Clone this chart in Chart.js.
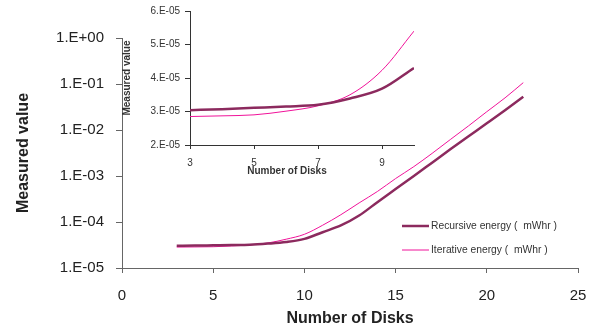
<!DOCTYPE html>
<html>
<head>
<meta charset="utf-8">
<script src="https://cdn.jsdelivr.net/npm/chart.js@4/dist/chart.umd.min.js"></script>
<style>
body{margin:0;background:#fff;}
#wrap{position:relative;width:597px;height:332px;}
#principal{position:absolute;left:0;top:0;}
#detalhe{position:absolute;left:100px;top:0;}
</style>
</head>
<body>
<div id="wrap">
<canvas id="principal" width="597" height="332"></canvas>
<canvas id="detalhe" width="320" height="185"></canvas>
</div>
<script>
var discos=[3,4,5,6,7,8,9,10,11,12,13,14,15,16,17,18,19,20,21,22];
var energiaRecursiva=[3.04e-5,3.07e-5,3.11e-5,3.15e-5,3.2e-5,3.39e-5,3.68e-5,4.3e-5,6.0e-5,8.4e-5,1.38e-4,2.7e-4,5.2e-4,1.0e-3,1.95e-3,3.8e-3,7.3e-3,1.4e-2,2.7e-2,5.3e-2];
var energiaIterativa=[2.85e-5,2.87e-5,2.9e-5,3.01e-5,3.17e-5,3.5e-5,4.23e-5,5.4e-5,8.5e-5,1.44e-4,2.6e-4,4.6e-4,8.8e-4,1.6e-3,3.1e-3,6.2e-3,1.23e-2,2.5e-2,5.0e-2,1.07e-1];
var ticksXDetalhe=[3,5,7,9];
var nDetalhe=8; // discos 3..10 no grafico pequeno
var tituloXDetalhe="Number of Disks";

var fonte="'Liberation Sans', Arial, sans-serif";
var corRec="#8c2a5e", corIt="#f0139a";

function pontos(xs,ys,n){
    var r=[];
    for (let i = 0; i < (n||xs.length); i++) r.push({x:xs[i],y:ys[i]});
    return r;
}
function formatoE(v){
    var e=Math.floor(Math.log10(v)+1e-9);
    var m=Math.round(v/Math.pow(10,e));
    var a=Math.abs(e);
    return m+".E"+(e<0?"-":"+")+(a<10?"0":"")+a;
}

var legendaPlugin={
    id:"legendaManual",
    afterDatasetsDraw:function(chart){
        var ctx=chart.ctx;
        var ys=[226,250];
        ctx.save();
        ctx.font="10.3px "+fonte;
        ctx.textBaseline="middle";
        chart.data.datasets.forEach(function(ds,i){
            ctx.strokeStyle=ds.borderColor;
            ctx.lineWidth=ds.borderWidth;
            ctx.beginPath();ctx.moveTo(402,ys[i]);ctx.lineTo(429,ys[i]);ctx.stroke();
            ctx.fillStyle="#333";
            ctx.fillText(ds.label,431,ys[i]);
        });
        ctx.restore();
    }
};

// titulo do eixo x do grafico pequeno fica um pouco a esquerda, como no Excel
var tituloDetalhePlugin={
    id:"tituloDetalhe",
    afterDraw:function(chart){
        var ctx=chart.ctx;
        ctx.save();
        ctx.font="bold 10px "+fonte;
        ctx.fillStyle="#333";
        ctx.textAlign="center";
        ctx.textBaseline="middle";
        ctx.fillText(tituloXDetalhe,chart.chartArea.left+97,171);
        ctx.restore();
    }
};

Chart.defaults.font.family=fonte;
Chart.defaults.color="#222";

new Chart(document.getElementById("principal"),{
    type:"line",
    data:{datasets:[
        {label:"Recursive energy (  mWhr )",data:pontos(discos,energiaRecursiva),borderColor:corRec,borderWidth:2.5,pointRadius:0,cubicInterpolationMode:"monotone",fill:false},
        {label:"Iterative energy (  mWhr )",data:pontos(discos,energiaIterativa),borderColor:corIt,borderWidth:1,pointRadius:0,cubicInterpolationMode:"monotone",fill:false}
    ]},
    options:{
        responsive:false,animation:false,
        layout:{padding:{top:38,right:19,left:0,bottom:0}},
        plugins:{legend:{display:false},tooltip:{enabled:false}},
        scales:{
            x:{type:"linear",min:0,max:25,
                ticks:{stepSize:5,font:{size:15},padding:14,maxRotation:0},
                grid:{drawOnChartArea:false,drawTicks:true,tickLength:5,color:"#666"},
                border:{color:"#666",width:1},
                title:{display:true,text:"Number of Disks",font:{size:16,weight:"bold"},padding:{top:2,bottom:4}},
                afterFit:function(s){s.height=64;s.paddingLeft=0;s.paddingRight=0;}
            },
            y:{type:"logarithmic",min:1e-5,max:1,
                afterBuildTicks:function(s){
                    s.ticks=s.ticks.filter(function(t){var l=Math.log10(t.value);return Math.abs(l-Math.round(l))<1e-6;});
                },
                ticks:{font:{size:15},padding:12,callback:function(v){return formatoE(v);}},
                grid:{drawOnChartArea:false,drawTicks:true,tickLength:6,color:"#666"},
                border:{color:"#666",width:1},
                title:{display:true,text:"Measured value",font:{size:16,weight:"bold"},padding:{top:13.5,bottom:0}},
                afterFit:function(s){s.width=122;}
            }
        }
    },
    plugins:[legendaPlugin]
});

new Chart(document.getElementById("detalhe"),{
    type:"line",
    data:{datasets:[
        {label:"Recursive energy (  mWhr )",data:pontos(discos,energiaRecursiva,nDetalhe),borderColor:corRec,borderWidth:2.5,pointRadius:0,cubicInterpolationMode:"monotone",fill:false},
        {label:"Iterative energy (  mWhr )",data:pontos(discos,energiaIterativa,nDetalhe),borderColor:corIt,borderWidth:1,pointRadius:0,cubicInterpolationMode:"monotone",fill:false}
    ]},
    options:{
        responsive:false,animation:false,
        layout:{padding:{top:7,right:6,left:0,bottom:0}},
        plugins:{legend:{display:false},tooltip:{enabled:false}},
        scales:{
            x:{type:"linear",min:3,max:10,
                afterBuildTicks:function(s){s.ticks=ticksXDetalhe.map(function(v){return {value:v};});},
                ticks:{font:{size:10},padding:8,maxRotation:0,color:"#333"},
                grid:{drawOnChartArea:false,drawTicks:true,tickLength:4,color:"#333"},
                border:{color:"#333",width:1},
                afterFit:function(s){s.height=40;s.paddingLeft=0;s.paddingRight=0;}
            },
            y:{type:"linear",min:2e-5,max:6e-5,
                ticks:{stepSize:1e-5,font:{size:10},padding:5,color:"#333",callback:function(v){return formatoE(v);}},
                grid:{drawOnChartArea:false,drawTicks:true,tickLength:5,color:"#333"},
                border:{color:"#333",width:1},
                title:{display:true,text:"Measured value",font:{size:10,weight:"bold"},padding:{top:21,bottom:0},color:"#333"},
                afterFit:function(s){s.width=90;}
            }
        }
    },
    plugins:[tituloDetalhePlugin]
});
</script>
</body>
</html>
